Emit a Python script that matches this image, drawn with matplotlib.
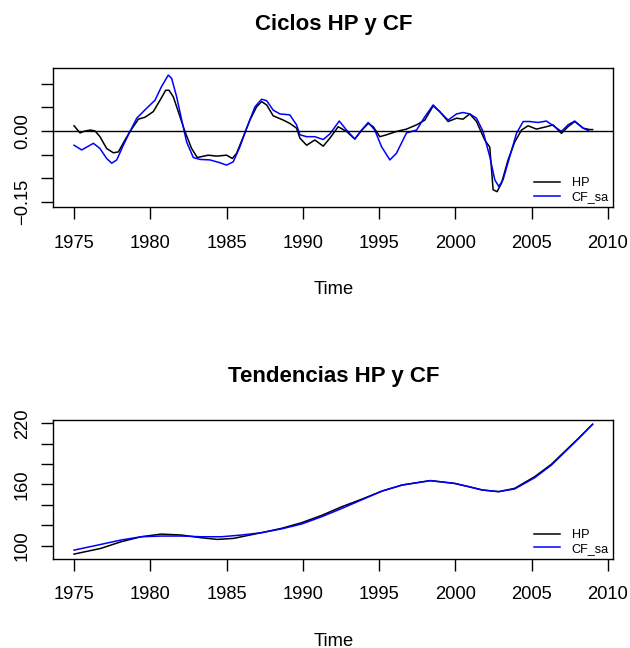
import matplotlib
matplotlib.use("Agg")
import matplotlib.pyplot as plt
from matplotlib.ticker import FixedLocator, FixedFormatter

plt.rcParams['font.family'] = ['Liberation Sans', 'DejaVu Sans']

# ---- cycles (top panel) ----
hp_cycle_years = [1975.00, 1975.39, 1975.72, 1976.09, 1976.38, 1976.70, 1977.14, 1977.58, 1977.91,
                  1978.34, 1978.67, 1979.22, 1979.65, 1980.20, 1980.64, 1981.01, 1981.23, 1981.51,
                  1981.95, 1982.27, 1982.71, 1983.08, 1983.37, 1983.80, 1984.35, 1985.00, 1985.38,
                  1985.66, 1986.10, 1986.53, 1986.97, 1987.30, 1987.63, 1988.06, 1988.72, 1989.15,
                  1989.59, 1989.81, 1990.25, 1990.79, 1991.34, 1991.78, 1992.32, 1992.87, 1993.41,
                  1993.85, 1994.29, 1994.62, 1995.05, 1995.49, 1996.14, 1996.80, 1997.46, 1998.00,
                  1998.55, 1998.98, 1999.53, 2000.08, 2000.51, 2000.95, 2001.39, 2001.93, 2002.26,
                  2002.48, 2002.74, 2003.03, 2003.46, 2003.90, 2004.34, 2004.77, 2005.32, 2005.97,
                  2006.41, 2006.96, 2007.39, 2007.83, 2008.38, 2008.81, 2009.00]
hp_cycle = [0.011, -0.004, 0.000, 0.002, 0.000, -0.012, -0.037, -0.046, -0.044,
            -0.019, -0.001, 0.025, 0.029, 0.041, 0.065, 0.086, 0.086, 0.072,
            0.030, -0.001, -0.037, -0.056, -0.054, -0.051, -0.053, -0.051, -0.058,
            -0.047, -0.012, 0.023, 0.051, 0.062, 0.055, 0.032, 0.023, 0.016,
            0.006, -0.015, -0.030, -0.019, -0.032, -0.015, 0.009, -0.001, -0.017,
            0.001, 0.016, 0.009, -0.012, -0.008, -0.001, 0.004, 0.013, 0.023,
            0.053, 0.041, 0.020, 0.027, 0.025, 0.036, 0.020, -0.019, -0.034,
            -0.124, -0.128, -0.110, -0.061, -0.023, 0.002, 0.011, 0.004, 0.009,
            0.013, -0.005, 0.009, 0.020, 0.006, 0.003, 0.003]

cf_cycle_years = [1975.00, 1975.50, 1975.94, 1976.27, 1976.70, 1977.14, 1977.47, 1977.80, 1978.23,
                  1978.67, 1979.11, 1979.76, 1980.31, 1980.74, 1981.18, 1981.40, 1981.73, 1982.06,
                  1982.38, 1982.82, 1983.26, 1983.91, 1984.57, 1985.00, 1985.44, 1985.88, 1986.32,
                  1986.86, 1987.30, 1987.63, 1988.06, 1988.50, 1989.15, 1989.59, 1989.81, 1990.25,
                  1990.79, 1991.34, 1991.78, 1992.39, 1992.87, 1993.41, 1993.85, 1994.29, 1994.72,
                  1995.16, 1995.71, 1996.14, 1996.80, 1997.46, 1998.00, 1998.55, 1999.09, 1999.53,
                  2000.08, 2000.51, 2000.95, 2001.39, 2001.82, 2002.26, 2002.59, 2002.85, 2003.13,
                  2003.57, 2004.01, 2004.45, 2004.88, 2005.43, 2005.97, 2006.52, 2006.96, 2007.39,
                  2007.83, 2008.38, 2008.71]
cf_cycle = [-0.030, -0.040, -0.032, -0.026, -0.037, -0.058, -0.068, -0.061, -0.030,
            -0.001, 0.027, 0.048, 0.065, 0.094, 0.118, 0.111, 0.072, 0.023,
            -0.023, -0.056, -0.060, -0.061, -0.067, -0.072, -0.065, -0.033, 0.006,
            0.051, 0.067, 0.064, 0.044, 0.036, 0.034, 0.013, -0.008, -0.012,
            -0.012, -0.018, -0.006, 0.021, 0.002, -0.017, 0.002, 0.018, 0.002,
            -0.033, -0.061, -0.047, -0.004, 0.002, 0.030, 0.055, 0.037, 0.023,
            0.036, 0.039, 0.036, 0.027, -0.001, -0.054, -0.103, -0.117, -0.103,
            -0.054, -0.005, 0.020, 0.020, 0.018, 0.021, 0.009, -0.001, 0.013,
            0.021, 0.006, 0.001]

# ---- trends (bottom panel) ----
hp_trend_years = [1975.00, 1976.76, 1978.08, 1979.40, 1980.71, 1982.03, 1983.35, 1984.40, 1985.46,
                  1987.30, 1988.60, 1989.93, 1991.25, 1992.57, 1993.90, 1995.20, 1996.52, 1998.36,
                  1999.94, 2000.70, 2001.78, 2002.84, 2003.89, 2005.21, 2006.30, 2007.05, 2008.10,
                  2009.00]
hp_trend = [91.8, 97.4, 103.9, 108.8, 111.4, 110.5, 107.8, 106.2, 107.2,
            112.8, 117.0, 122.6, 129.8, 138.3, 145.8, 153.6, 159.5, 163.8,
            161.1, 158.5, 154.6, 153.0, 156.2, 167.7, 179.8, 190.6, 205.6,
            219.0]

cf_trend_years = [1975.00, 1976.76, 1978.08, 1979.40, 1980.71, 1982.03, 1983.35, 1984.67, 1985.99,
                  1987.30, 1988.60, 1989.93, 1991.25, 1992.57, 1993.90, 1995.20, 1996.52, 1998.36,
                  1999.94, 2000.70, 2001.78, 2002.84, 2003.89, 2005.21, 2006.30, 2007.05, 2008.10,
                  2009.00]
cf_trend = [95.7, 101.3, 105.6, 108.8, 109.5, 109.5, 108.8, 108.8, 110.5,
            112.8, 116.5, 121.3, 128.5, 136.6, 145.2, 153.6, 159.5, 163.8,
            161.1, 158.5, 154.6, 153.0, 155.6, 166.7, 179.0, 189.9, 205.2,
            219.0]

x_ticks = [1975, 1980, 1985, 1990, 1995, 2000, 2005, 2010]
top_yticks = [-0.15, -0.10, -0.05, 0.00, 0.05, 0.10]
top_ylabels = ["\u22120.15", "", "", "0.00", "", ""]
bot_yticks = [100, 120, 140, 160, 180, 200, 220]
bot_ylabels = ["100", "", "", "160", "", "", "220"]

W, H = 630, 648
fig = plt.figure(figsize=(W / 100, H / 100), dpi=100)

left, right = 53.3 / W, 613.3 / W
ax1 = fig.add_axes([left, 1 - 207.3 / H, right - left, 139.0 / H])
ax2 = fig.add_axes([left, 1 - 559.0 / H, right - left, 139.0 / H])

lw = 1.1
for ax, title in ((ax1, "Ciclos HP y CF"), (ax2, "Tendencias HP y CF")):
    for s in ax.spines.values():
        s.set_linewidth(1.0)
    ax.set_xlim(1973.64, 2010.36)
    ax.xaxis.set_major_locator(FixedLocator(x_ticks))
    ax.tick_params(axis='both', direction='out', length=8.6, width=1.0,
                   labelsize=13.2, colors='black')
    ax.tick_params(axis='x', pad=11.0)
    ax.tick_params(axis='y', pad=7.6)
    ax.text(0.5, 1 + 38.0 / 139.0, title, transform=ax.transAxes, ha='center',
            va='baseline', fontsize=16, fontweight='bold')
    ax.text(0.5, -86.5 / 139.0, "Time", transform=ax.transAxes, ha='center',
            va='baseline', fontsize=13.2)

ax1.plot(hp_cycle_years, hp_cycle, color='black', lw=lw, label='HP')
ax1.plot(cf_cycle_years, cf_cycle, color='blue', lw=lw, label='CF_sa')
ax1.axhline(0, color='black', lw=1.0)
ax1.set_ylim(-0.161, 0.1323)
ax1.yaxis.set_major_locator(FixedLocator(top_yticks))
ax1.yaxis.set_major_formatter(FixedFormatter(top_ylabels))

ax2.plot(hp_trend_years, hp_trend, color='black', lw=lw, label='HP')
ax2.plot(cf_trend_years, cf_trend, color='blue', lw=lw, label='CF_sa')
ax2.set_ylim(87.0, 223.2)
ax2.yaxis.set_major_locator(FixedLocator(bot_yticks))
ax2.yaxis.set_major_formatter(FixedFormatter(bot_ylabels))

for ax in (ax1, ax2):
    for lab in ax.get_yticklabels():
        lab.set_rotation(90)
        lab.set_va('center')
        lab.set_ha('right')
    ax.legend(loc='lower right', bbox_to_anchor=(0.992, 0.03), frameon=False,
              fontsize=9.1, handlelength=2.0, handletextpad=0.95,
              labelspacing=0.15, borderpad=0, borderaxespad=0)

fig.savefig("out.png", dpi=100)
